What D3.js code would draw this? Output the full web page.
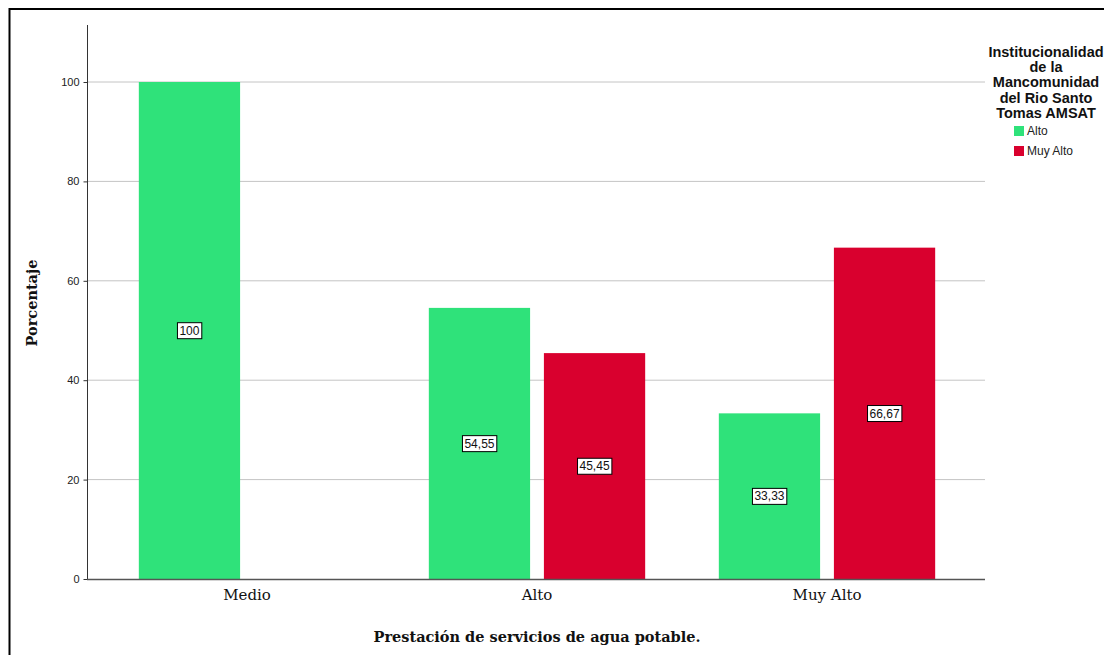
<!DOCTYPE html>
<html>
<head>
<meta charset="utf-8">
<script src="https://cdn.jsdelivr.net/npm/d3@7"></script>
<style>
  body { margin: 0; background: #fff; }
  svg { display: block; }
</style>
</head>
<body>
<div id="chart"></div>
<script>
// data
const categories = ["Medio", "Alto", "Muy Alto"];
const seriesNames = ["Alto", "Muy Alto"];
const altoValues = [100, 54.55, 33.33];
const muyAltoValues = [null, 45.45, 66.67];
const yTicks = [0, 20, 40, 60, 80, 100];
const legendTitle = ["Institucionalidad", "de la", "Mancomunidad", "del Rio Santo", "Tomas AMSAT"];

const W = 1104, H = 655;
const plot = {left: 87, right: 985, top: 25, bottom: 579};
const serif = "DejaVu Serif, Georgia, serif";
const sans = "Liberation Sans, Arial, sans-serif";

const svg = d3.select("#chart").append("svg")
  .attr("width", W)
  .attr("height", H);

// outer frame (right and bottom edges fall outside the picture)
svg.append("rect")
  .attr("x", 9.5).attr("y", 9)
  .attr("width", 1110).attr("height", 660)
  .attr("fill", "#fff")
  .attr("stroke", "#000")
  .attr("stroke-width", 2);

const y = d3.scaleLinear()
  .domain([0, 100])
  .range([plot.bottom, 82]);

const x = d3.scaleBand()
  .domain(categories)
  .range([102, 972]);

const xSub = d3.scaleBand()
  .domain(seriesNames)
  .range([0, x.bandwidth()])
  .paddingInner(0.12)
  .paddingOuter(0.32);

const color = d3.scaleOrdinal()
  .domain(seriesNames)
  .range(["#2fe27a", "#d9002e"]);

// grid lines
svg.append("g")
  .selectAll("line")
  .data(yTicks.filter(t => t > 0))
  .enter().append("line")
  .attr("x1", plot.left).attr("x2", plot.right)
  .attr("y1", d => y(d)).attr("y2", d => y(d))
  .attr("stroke", "#c4c4c4")
  .attr("stroke-width", 1);

// bars
const rows = categories.map((c, i) => ({
  cat: c,
  values: [
    {key: "Alto", value: altoValues[i]},
    {key: "Muy Alto", value: muyAltoValues[i]}
  ].filter(v => v.value != null)
}));

const groups = svg.append("g")
  .selectAll("g")
  .data(rows)
  .enter().append("g")
  .attr("transform", d => `translate(${x(d.cat)},0)`);

groups.selectAll("rect")
  .data(d => d.values)
  .enter().append("rect")
  .attr("x", d => xSub(d.key))
  .attr("y", d => y(d.value))
  .attr("width", xSub.bandwidth())
  .attr("height", d => y(0) - y(d.value))
  .attr("fill", d => color(d.key));

// value labels in boxes
const fmt = v => Number.isInteger(v) ? String(v) : v.toFixed(2).replace(".", ",");
const labels = groups.selectAll("g.lab")
  .data(d => d.values)
  .enter().append("g")
  .attr("class", "lab")
  .attr("transform", d => `translate(${xSub(d.key) + xSub.bandwidth() / 2},${y(d.value / 2)})`);

labels.each(function(d) {
  const g = d3.select(this);
  const t = g.append("text")
    .attr("text-anchor", "middle")
    .attr("dy", "0.35em")
    .attr("font-family", sans)
    .attr("font-size", 12)
    .attr("fill", "#111")
    .text(fmt(d.value));
  const bb = t.node().getBBox();
  g.insert("rect", "text")
    .attr("x", bb.x - 2).attr("y", bb.y - 1)
    .attr("width", bb.width + 4).attr("height", bb.height + 2)
    .attr("fill", "#fff")
    .attr("stroke", "#000")
    .attr("stroke-width", 1);
});

// y axis
svg.append("line")
  .attr("x1", plot.left + 0.5).attr("x2", plot.left + 0.5)
  .attr("y1", plot.top).attr("y2", plot.bottom)
  .attr("stroke", "#333");

const yAxis = svg.append("g")
  .attr("transform", `translate(${plot.left + 0.5},0)`)
  .call(d3.axisLeft(y).tickValues(yTicks).tickSize(4).tickPadding(4).tickSizeOuter(0));
yAxis.select(".domain").remove();
yAxis.selectAll("line").attr("stroke", "#333");
yAxis.selectAll("text")
  .attr("font-family", sans)
  .attr("font-size", 11)
  .attr("fill", "#222");

// x axis
const xAxis = svg.append("g")
  .attr("transform", `translate(0,${plot.bottom + 0.5})`)
  .call(d3.axisBottom(x).tickSize(0).tickPadding(10));
xAxis.select(".domain").remove();
xAxis.selectAll("text")
  .attr("font-family", serif)
  .attr("font-size", 15)
  .attr("fill", "#111");

svg.append("line")
  .attr("x1", plot.left).attr("x2", plot.right)
  .attr("y1", plot.bottom + 0.5).attr("y2", plot.bottom + 0.5)
  .attr("stroke", "#555")
  .attr("stroke-width", 1.5);

// axis titles
svg.append("text")
  .attr("x", 537).attr("y", 642)
  .attr("text-anchor", "middle")
  .attr("font-family", serif)
  .attr("font-weight", "bold")
  .attr("font-size", 14.5)
  .attr("fill", "#111")
  .text("Prestación de servicios de agua potable.");

svg.append("text")
  .attr("transform", "translate(37,303) rotate(-90)")
  .attr("text-anchor", "middle")
  .attr("font-family", serif)
  .attr("font-weight", "bold")
  .attr("font-size", 14.5)
  .attr("fill", "#111")
  .text("Porcentaje");

// legend
const legend = svg.append("g");
legend.selectAll("text.title")
  .data(legendTitle)
  .enter().append("text")
  .attr("class", "title")
  .attr("x", 1046)
  .attr("y", (d, i) => 57 + i * 15.2)
  .attr("text-anchor", "middle")
  .attr("font-family", sans)
  .attr("font-weight", "bold")
  .attr("font-size", 14.5)
  .attr("fill", "#111")
  .text(d => d);

const items = legend.selectAll("g.item")
  .data(seriesNames)
  .enter().append("g")
  .attr("class", "item")
  .attr("transform", (d, i) => `translate(1014,${126 + i * 20})`);

items.append("rect")
  .attr("width", 10).attr("height", 10)
  .attr("fill", d => color(d));

items.append("text")
  .attr("x", 13).attr("y", 9)
  .attr("font-family", sans)
  .attr("font-size", 12)
  .attr("fill", "#222")
  .text(d => d);
</script>
</body>
</html>
